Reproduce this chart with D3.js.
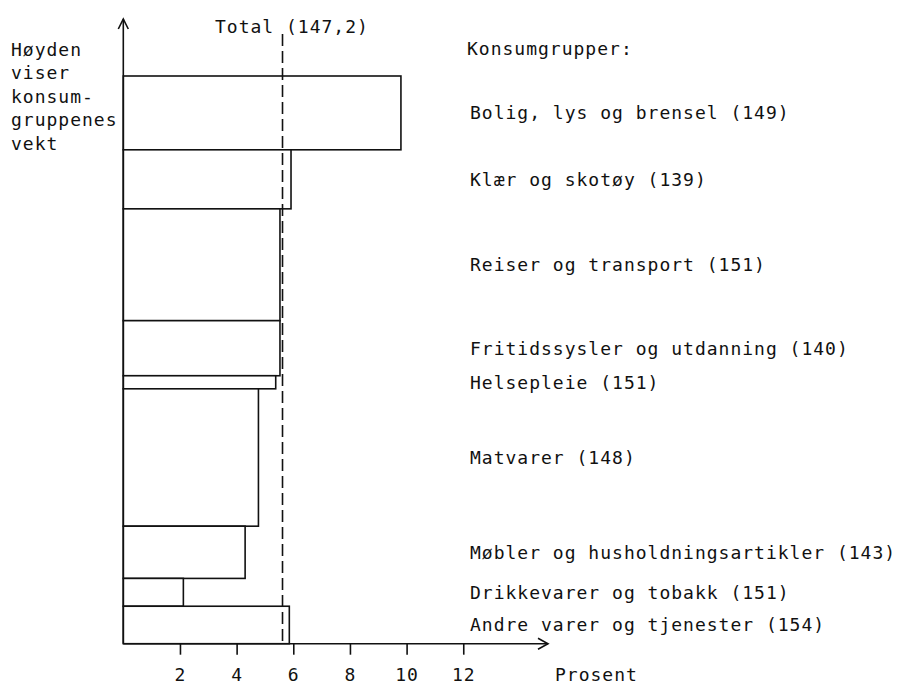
<!DOCTYPE html>
<html>
<head>
<meta charset="utf-8">
<script src="https://cdn.jsdelivr.net/npm/d3@7"></script>
<style>
  html, body { margin: 0; padding: 0; background: #fff; }
  text { font-family: "DejaVu Sans Mono", "Liberation Mono", monospace; font-size: 18px; letter-spacing: 1px; fill: #111; }
</style>
</head>
<body>
<svg id="chart" width="902" height="686"></svg>
<script>
// ---- data ----
const categories = [
  "Bolig, lys og brensel",
  "Klær og skotøy",
  "Reiser og transport",
  "Fritidssysler og utdanning",
  "Helsepleie",
  "Matvarer",
  "Møbler og husholdningsartikler",
  "Drikkevarer og tobakk",
  "Andre varer og tjenester"
];
const indexValues = [149, 139, 151, 140, 151, 148, 143, 151, 154];
const weights = [130, 104, 197, 97, 23, 242, 92, 49, 66];          // per mille (bar height)
const percentChange = [9.8, 5.92, 5.53, 5.53, 5.38, 4.77, 4.3, 2.12, 5.86]; // bar length
const totalPercent = 5.62;
const totalLabel = "Total (147,2)";
const xTicks = [2, 4, 6, 8, 10, 12];
const xAxisTitle = "Prosent";
const legendTitle = "Konsumgrupper:";
const yAxisNote = ["Høyden", "viser", "konsum-", "gruppenes", "vekt"];

// ---- layout ----
const svg = d3.select("#chart");
svg.append("rect").attr("width", 902).attr("height", 686).attr("fill", "#fff");

const x = d3.scaleLinear().domain([0, 14]).range([123.3, 123.3 + 28.33 * 14]);
const totalW = d3.sum(weights);
const y = d3.scaleLinear().domain([0, totalW]).range([76, 643.7]);

const cum = [];
let acc = 0;
weights.forEach(w => { cum.push(acc); acc += w; });

const rows = categories.map((c, i) => ({
  name: c, idx: indexValues[i], w: weights[i], v: percentChange[i], start: cum[i]
}));

const ink = "#111";
const lw = 1.6;

// bars
svg.append("g").selectAll("rect").data(rows).join("rect")
  .attr("x", x(0))
  .attr("y", d => y(d.start))
  .attr("width", d => x(d.v) - x(0))
  .attr("height", d => y(d.start + d.w) - y(d.start))
  .attr("fill", "#fff")
  .attr("stroke", ink)
  .attr("stroke-width", lw);

// total dashed line
svg.append("line")
  .attr("x1", x(totalPercent)).attr("x2", x(totalPercent))
  .attr("y1", 34).attr("y2", y(totalW))
  .attr("stroke", ink).attr("stroke-width", 1.6)
  .attr("stroke-dasharray", "12,5");
svg.append("text").attr("x", 215).attr("y", 33).text(totalLabel);

// y axis with arrow
const x0 = x(0), yb = y(totalW);
svg.append("line").attr("x1", x0).attr("x2", x0).attr("y1", yb).attr("y2", 19)
  .attr("stroke", ink).attr("stroke-width", lw);
svg.append("path").attr("d", `M${x0 - 5},29 L${x0},19 L${x0 + 5},29`)
  .attr("fill", "none").attr("stroke", ink).attr("stroke-width", lw);

// x axis with arrow
const xEnd = 548;
svg.append("line").attr("x1", x0).attr("x2", xEnd).attr("y1", yb).attr("y2", yb)
  .attr("stroke", ink).attr("stroke-width", lw);
svg.append("path").attr("d", `M${xEnd - 10},${yb - 5.5} L${xEnd},${yb} L${xEnd - 10},${yb + 5.5}`)
  .attr("fill", "none").attr("stroke", ink).attr("stroke-width", lw);

// ticks via d3 axis
const axis = d3.axisBottom(x).tickValues(xTicks).tickSize(11).tickPadding(14)
  .tickFormat(d3.format("d"));
const gAxis = svg.append("g").attr("transform", `translate(0,${yb})`).call(axis);
gAxis.select(".domain").remove();
gAxis.selectAll(".tick line").attr("stroke", ink).attr("stroke-width", lw);
gAxis.selectAll(".tick text")
  .attr("dy", null).attr("y", 37)
  .style("font-family", '"DejaVu Sans Mono", monospace')
  .style("font-size", "18px").attr("fill", ink);

svg.append("text").attr("x", 555).attr("y", yb + 37).text(xAxisTitle);

// right-hand labels
svg.append("text").attr("x", 467).attr("y", 55).text(legendTitle);
svg.append("g").selectAll("text").data(rows).join("text")
  .attr("x", 470)
  .attr("y", d => (y(d.start) + y(d.start + d.w)) / 2 + 6.5)
  .text(d => `${d.name} (${d.idx})`);

// left note
svg.append("g").selectAll("text").data(yAxisNote).join("text")
  .attr("x", 11)
  .attr("y", (d, i) => 56 + i * 23.4)
  .text(d => d);
</script>
</body>
</html>
